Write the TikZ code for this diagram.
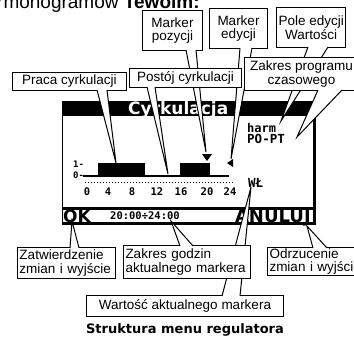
\documentclass[tikz,border=0pt]{standalone}
\usepackage{fontspec}
\setmainfont{Liberation Sans}
\newfontfamily\lcdmono{DejaVu Sans Mono}
\newfontfamily\lcdsans{DejaVu Sans}
\usetikzlibrary{calc}

% white wedge of a callout: two base points on the box edge and a tip
\newcommand\pointer[3]{%
  \fill[white] #1 -- #3 -- #2 -- cycle;
  \draw[pointerline] #1 -- #3 -- #2;}

\begin{document}
\begin{tikzpicture}[x=1pt,y=-1pt,
  callout/.style={draw=black, fill=white, line width=1pt, inner xsep=2pt, inner ysep=0pt,
    font=\fontsize{13.5}{13.5}\selectfont, anchor=north west, align=center},
  leftbox/.style={callout, align=left, text width=#1},
  pointerline/.style={line width=1pt, line join=miter},
  lcdtxt/.style={font=\lcdmono\bfseries\fontsize{#1}{#1}\selectfont, inner sep=0pt},
  lcdbig/.style={font=\lcdsans\bfseries\fontsize{#1}{#1}\selectfont, inner sep=0pt}
]
\useasboundingbox (0,0) rectangle (354,341);
\clip (0,0) rectangle (354,341);

% heading line cut by the page edge
\node[anchor=base west, inner sep=0pt, font=\fontsize{19}{19}\selectfont] (head) at (-3,8)
  {rmonogramów \textbf{Tewolm:}};

% ---------------- controller display ----------------
\fill[black] (62,101) rectangle (316,115.5);
\node[lcdbig=17, text=white, anchor=base west] (title) at (128,114) {Cyrkulacja};
\draw[line width=1pt] (62,101) -- (62,225);
\draw[line width=3pt] (314,101) -- (314,225);
\fill[black] (62,207) rectangle (316,209.5);
\fill[black] (62,222) rectangle (316,225);

% time chart
\node[lcdtxt=9, anchor=base west] (one) at (73,167) {1-};
\node[lcdtxt=9, anchor=base west] (zero) at (73,178) {0-};
\draw[line width=2.2pt] (83,176) -- (229,176);
\fill[black] (98,163) rectangle (145,177);
\fill[black] (180,163) rectangle (210,177);
\draw[line width=1pt, dash pattern=on 1pt off 2pt] (85,182) -- (233,182);
\foreach \xx/\hh in {87/0,108/4,132/8,157/12,181/16,207/20,230/24}
  \node[lcdtxt=10.5, anchor=base] (h\hh) at (\xx,195) {\hh};
% position and edit markers
\fill[black] (202,154) -- (212,154) -- (207,161) -- cycle;
\fill[black] (233,159) -- (233,167) -- (227,163) -- cycle;

% value fields
\node[lcdtxt=12, anchor=base west] (harm) at (247,132) {harm};
\node[lcdtxt=12.5, anchor=base west] (popt) at (247,143) {PO-PT};
\node[lcdtxt=12.5, anchor=base west] (wl) at (248,187) {WŁ};

% bottom line of the display
\node[lcdbig=17, anchor=base west] (ok) at (63,222) {OK};
\node[lcdtxt=10.5, anchor=base west] (range) at (110,219) {20:00÷24:00};
\node[lcdbig=18, anchor=base east] (anuluj) at (311,222) {ANULUJ};

% pointer tips
\coordinate (tipPoz) at (206,152);
\coordinate (tipEdy) at (231,159);
\coordinate (tipPole) at (281,121);
\coordinate (tipProg) at (297,137);
\coordinate (tipPraca) at (116,163);
\coordinate (tipPostoj) at (168,174);
\coordinate (tipZatw) at (72,221);
\coordinate (tipGodz) at (171,221);
\coordinate (tipOdrz) at (307,226);
\coordinate (tipWart) at (251,187);

% ---------------- upper callouts ----------------
\node[callout, minimum width=60pt, minimum height=40pt] (mpoz) at (142,10) {Marker\\pozycji};
\pointer{([xshift=44pt,yshift=1pt]mpoz.south west)}{([xshift=54pt,yshift=1pt]mpoz.south west)}{(tipPoz)}

\node[callout, minimum width=58pt, minimum height=40pt] (medy) at (209,8) {Marker\\edycji};
\pointer{([xshift=31pt,yshift=1pt]medy.south west)}{([xshift=43pt,yshift=1pt]medy.south west)}{(tipEdy)}

\node[callout, minimum width=67pt, minimum height=40pt] (pole) at (276,7) {Pole edycji\\Wartości};
\pointer{([xshift=32pt,yshift=1pt]pole.south west)}{([xshift=52pt,yshift=1pt]pole.south west)}{(tipPole)}

\node[callout, minimum width=114pt, minimum height=33pt] (zprog) at (244,57) {Zakres programu\\czasowego};
\pointer{([xshift=74pt,yshift=1pt]zprog.south west)}{([xshift=98pt,yshift=1pt]zprog.south west)}{(tipProg)}

\node[callout, minimum width=114pt, minimum height=18pt] (praca) at (12,72) {Praca cyrkulacji};
\pointer{([xshift=85pt,yshift=1pt]praca.south west)}{([xshift=95pt,yshift=1pt]praca.south west)}{(tipPraca)}

\node[callout, minimum width=112pt, minimum height=19pt] (postoj) at (129,68) {Postój cyrkulacji};
\pointer{([xshift=18pt,yshift=1pt]postoj.south west)}{([xshift=26pt,yshift=1pt]postoj.south west)}{(tipPostoj)}

% ---------------- lower callouts ----------------
\node[callout, minimum width=197pt, minimum height=21pt] (wart) at (86,295) {Wartość aktualnego markera};
\pointer{([xshift=136pt,yshift=-1pt]wart.north west)}{([xshift=154pt,yshift=-1pt]wart.north west)}{(tipWart)}

\node[leftbox=123pt, minimum height=33pt] (zgodz) at (123,245) {Zakres godzin\\aktualnego markera};
\pointer{([xshift=57pt,yshift=-1pt]zgodz.north west)}{([xshift=70pt,yshift=-1pt]zgodz.north west)}{(tipGodz)}

\node[leftbox=94pt, minimum height=31pt] (zatw) at (17,247) {Zatwierdzenie\\zmian i wyjście};
\pointer{([xshift=53pt,yshift=-1pt]zatw.north west)}{([xshift=62pt,yshift=-1pt]zatw.north west)}{(tipZatw)}

\node[leftbox=96pt, minimum height=28pt] (odrz) at (267,247) {Odrzucenie\\zmian i wyjście};
\pointer{([xshift=46pt,yshift=-1pt]odrz.north west)}{([xshift=60pt,yshift=-1pt]odrz.north west)}{(tipOdrz)}

% caption
\node[anchor=base, inner sep=0pt, font=\lcdsans\bfseries\fontsize{13}{13}\selectfont] (caption) at (185,333)
  {Struktura menu regulatora};
\end{tikzpicture}
\end{document}
